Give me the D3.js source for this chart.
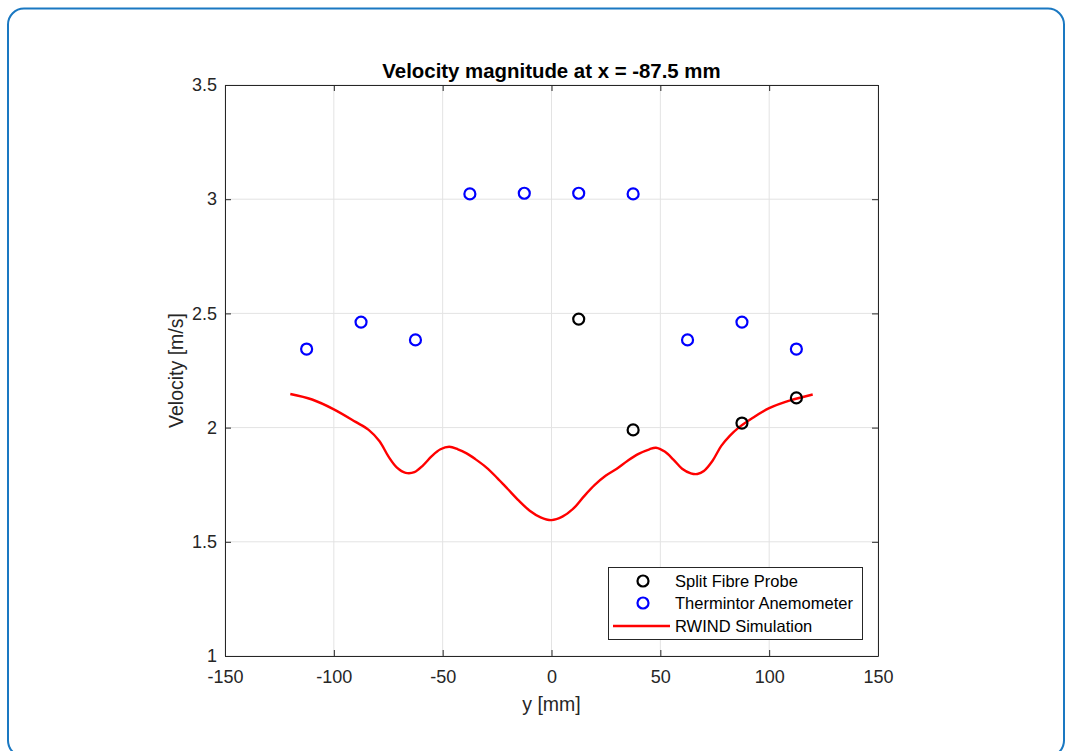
<!DOCTYPE html>
<html><head><meta charset="utf-8">
<script src="https://cdn.jsdelivr.net/npm/d3@7"></script>
<style>body{margin:0;background:#fff;}svg{display:block;font-family:"Liberation Sans",Arial,sans-serif;}</style>
</head><body>
<script>
const xTicks = [-150,-100,-50,0,50,100,150];
const yTicks = [1,1.5,2,2.5,3,3.5];
const splitY = [12.5,37.5,87.5,112.5];
const splitV = [2.475,1.99,2.02,2.13];
const thermY = [-112.5,-87.5,-62.5,-37.5,-12.5,12.5,37.5,62.5,87.5,112.5];
const thermV = [2.344,2.462,2.384,3.023,3.026,3.026,3.023,2.384,2.462,2.344];
const simY = [-120,-110,-100,-90,-84,-79,-75,-71,-67,-63,-59,-55,-51,-47,-43,-39,-35,-30,-25,-20,-15,-10,-5,0,5,10,15,20,25,30,35,40,45,48,52,56,60,64,67,70,74,78,82,86,92,100,110,120];
const simV = [2.147,2.123,2.080,2.025,1.99,1.94,1.875,1.825,1.802,1.805,1.835,1.875,1.905,1.916,1.905,1.887,1.862,1.826,1.78,1.73,1.68,1.636,1.607,1.595,1.61,1.645,1.70,1.75,1.79,1.82,1.855,1.885,1.905,1.912,1.895,1.86,1.82,1.80,1.797,1.81,1.855,1.92,1.965,2.0,2.04,2.085,2.12,2.145];
const legendLabels = ["Split Fibre Probe","Thermintor Anemometer","RWIND Simulation"];

const W=1069,H=751;
const L=225,R=878,T=85,B=656;
const FONT="'Liberation Sans',Arial,sans-serif";
const svg=d3.select("body").append("svg").attr("width",W).attr("height",H);
svg.append("rect").attr("x",8).attr("y",8.5).attr("width",1056).attr("height",748).attr("rx",16)
  .attr("fill","#fff").attr("stroke","#1a78c2").attr("stroke-width",2);

const x=d3.scaleLinear().domain([-150,150]).range([L,R]);
const y=d3.scaleLinear().domain([1,3.5]).range([B,T]);
const fmt=d=>String(d);

const g=svg.append("g");
g.selectAll(".gx").data(xTicks).join("line").attr("x1",d=>x(d)).attr("x2",d=>x(d)).attr("y1",T).attr("y2",B).attr("stroke","#e3e3e3").attr("stroke-width",1);
g.selectAll(".gy").data(yTicks).join("line").attr("y1",d=>y(d)).attr("y2",d=>y(d)).attr("x1",L).attr("x2",R).attr("stroke","#e3e3e3").attr("stroke-width",1);

const axB=d3.axisBottom(x).tickValues(xTicks).tickSizeInner(-6).tickSizeOuter(0).tickPadding(14).tickFormat(fmt);
const axT=d3.axisTop(x).tickValues(xTicks).tickSizeInner(-6).tickSizeOuter(0).tickFormat("");
const axL=d3.axisLeft(y).tickValues(yTicks).tickSizeInner(-6).tickSizeOuter(0).tickPadding(8).tickFormat(fmt);
const axR=d3.axisRight(y).tickValues(yTicks).tickSizeInner(-6).tickSizeOuter(0).tickFormat("");
function style(sel){sel.selectAll("path").attr("stroke","#262626");sel.selectAll("line").attr("stroke","#262626");sel.selectAll("text").attr("fill","#262626").style("font-size","18px").style("font-family",FONT);}
g.append("g").attr("transform",`translate(0,${B})`).call(axB).call(style);
g.append("g").attr("transform",`translate(0,${T})`).call(axT).call(style);
g.append("g").attr("transform",`translate(${L},0)`).call(axL).call(style);
g.append("g").attr("transform",`translate(${R},0)`).call(axR).call(style);

const sim=simY.map((d,i)=>[d,simV[i]]);
g.append("path").datum(sim).attr("fill","none").attr("stroke","#ff0000").attr("stroke-width",2.4)
  .attr("d",d3.line().x(d=>x(d[0])).y(d=>y(d[1])).curve(d3.curveCatmullRom));

g.selectAll(".th").data(thermY).join("circle").attr("cx",d=>x(d)).attr("cy",(d,i)=>y(thermV[i])).attr("r",5.5)
  .attr("fill","none").attr("stroke","#0000ff").attr("stroke-width",2.2);
g.selectAll(".sp").data(splitY).join("circle").attr("cx",d=>x(d)).attr("cy",(d,i)=>y(splitV[i])).attr("r",5.5)
  .attr("fill","none").attr("stroke","#000").attr("stroke-width",2.2);

svg.append("text").attr("x",(L+R)/2).attr("y",78).attr("text-anchor","middle").attr("font-weight","bold").attr("font-size","20.4px").attr("fill","#000").text("Velocity magnitude at x = -87.5 mm");
svg.append("text").attr("x",(L+R)/2).attr("y",711).attr("text-anchor","middle").attr("font-size","19.5px").attr("fill","#262626").text("y [mm]");
svg.append("text").attr("transform",`translate(183,${(T+B)/2}) rotate(-90)`).attr("text-anchor","middle").attr("font-size","19.5px").attr("fill","#262626").text("Velocity [m/s]");

const lg=svg.append("g");
lg.append("rect").attr("x",608.5).attr("y",567.5).attr("width",254).attr("height",72).attr("fill","#fff").attr("stroke","#262626").attr("stroke-width",1);
const ly=[581,603,626];
lg.append("circle").attr("cx",643).attr("cy",ly[0]).attr("r",5.5).attr("fill","none").attr("stroke","#000").attr("stroke-width",2.2);
lg.append("circle").attr("cx",643).attr("cy",ly[1]).attr("r",5.5).attr("fill","none").attr("stroke","#0000ff").attr("stroke-width",2.2);
lg.append("line").attr("x1",613).attr("x2",670).attr("y1",ly[2]).attr("y2",ly[2]).attr("stroke","#ff0000").attr("stroke-width",2.4);
lg.selectAll(".lt").data(legendLabels).join("text").attr("x",675).attr("y",(d,i)=>ly[i]+6).attr("font-size","16.5px").attr("fill","#000").text(d=>d);
</script>
</body></html>
